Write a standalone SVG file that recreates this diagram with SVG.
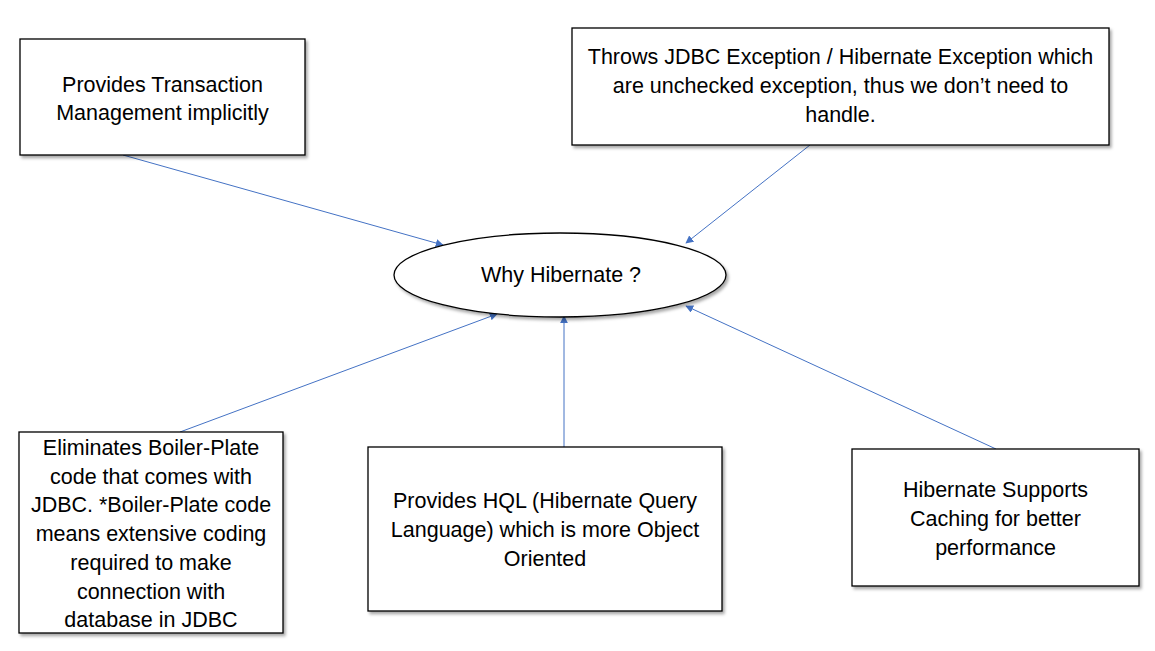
<svg xmlns="http://www.w3.org/2000/svg" width="1155" height="651" viewBox="0 0 1155 651">
  <defs>
    <style>
      .box { fill: #ffffff; stroke: #000000; stroke-width: 1.3; filter: url(#shadow); }
      .lbl { font-family: "Liberation Sans", Arial, sans-serif; font-size: 21.5px; fill: #000000; text-anchor: middle; }
      .conn { stroke: #4472C4; stroke-width: 1; fill: none; marker-end: url(#arrow); }
    </style>
    <filter id="shadow" x="-10%" y="-10%" width="130%" height="130%">
      <feDropShadow dx="2" dy="2.5" stdDeviation="1.5" flood-color="#000000" flood-opacity="0.35"/>
    </filter>
    <marker id="arrow" viewBox="0 0 10 10" refX="9" refY="5" markerWidth="8" markerHeight="8" markerUnits="userSpaceOnUse" orient="auto">
      <path d="M0,0 L10,5 L0,10 z" fill="#4472C4"/>
    </marker>
  </defs>
  <rect width="1155" height="651" fill="#ffffff"/>

  <g id="connectors">
    <line class="conn" x1="123" y1="155" x2="443" y2="245"/>
    <line class="conn" x1="810" y1="145" x2="686" y2="243"/>
    <line class="conn" x1="180" y1="432" x2="497" y2="314"/>
    <line class="conn" x1="564" y1="447" x2="564" y2="316"/>
    <line class="conn" x1="996" y1="449" x2="686" y2="306"/>
  </g>

  <g id="center">
    <ellipse class="box" cx="560" cy="275" rx="166" ry="42"/>
    <text class="lbl" x="561" y="282">Why Hibernate ?</text>
  </g>

  <g id="transaction">
    <rect class="box" x="20" y="39" width="285" height="116"/>
    <text class="lbl" x="162.5" y="92">Provides Transaction</text>
    <text class="lbl" x="162.5" y="120">Management implicitly</text>
  </g>

  <g id="exception">
    <rect class="box" x="572" y="28" width="537" height="117"/>
    <text class="lbl" x="840.5" y="64">Throws JDBC Exception / Hibernate Exception which</text>
    <text class="lbl" x="840.5" y="93">are unchecked exception, thus we don’t need to</text>
    <text class="lbl" x="840.5" y="122">handle.</text>
  </g>

  <g id="boilerplate">
    <rect class="box" x="19" y="432" width="264" height="201"/>
    <text class="lbl" x="151" y="455">Eliminates Boiler-Plate</text>
    <text class="lbl" x="151" y="483.7">code that comes with</text>
    <text class="lbl" x="151" y="512.4">JDBC. *Boiler-Plate code</text>
    <text class="lbl" x="151" y="541.1">means extensive coding</text>
    <text class="lbl" x="151" y="569.8">required to make</text>
    <text class="lbl" x="151" y="598.5">connection with</text>
    <text class="lbl" x="151" y="627.2">database in JDBC</text>
  </g>

  <g id="hql">
    <rect class="box" x="368" y="447" width="354" height="164"/>
    <text class="lbl" x="545" y="508">Provides HQL (Hibernate Query</text>
    <text class="lbl" x="545" y="537">Language) which is more Object</text>
    <text class="lbl" x="545" y="566">Oriented</text>
  </g>

  <g id="caching">
    <rect class="box" x="852" y="449" width="287" height="137"/>
    <text class="lbl" x="995.5" y="497">Hibernate Supports</text>
    <text class="lbl" x="995.5" y="526">Caching for better</text>
    <text class="lbl" x="995.5" y="555">performance</text>
  </g>
</svg>
